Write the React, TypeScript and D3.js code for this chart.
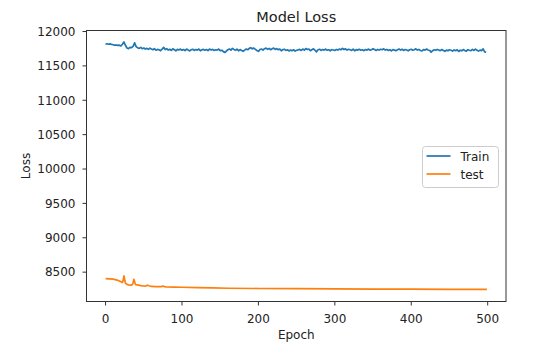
import React from "react";
import * as d3 from "d3";

// Train loss sampled every 2 epochs (epoch = index * 2)
const trainStep = 2;
const trainLoss = [
  11818, 11822, 11815, 11820, 11812, 11808, 11800, 11805, 11798, 11802,
  11790, 11815, 11848, 11800, 11760, 11752, 11770, 11765, 11785, 11835,
  11780, 11765, 11755, 11770, 11750, 11760, 11745, 11755, 11740, 11758,
  11745, 11735, 11750, 11728, 11740, 11735, 11722, 11745, 11770, 11738,
  11750, 11730, 11742, 11725, 11748, 11735, 11720, 11740, 11732, 11745,
  11728, 11738, 11722, 11745, 11730, 11718, 11735, 11742, 11725, 11738,
  11730, 11745, 11720, 11735, 11740, 11728, 11738, 11722, 11745, 11732,
  11740, 11725, 11735, 11730, 11745, 11722, 11728, 11710, 11695, 11715,
  11735, 11745, 11730, 11755, 11740, 11728, 11745, 11720, 11738, 11725,
  11712, 11730, 11745, 11735, 11755, 11765, 11748, 11760, 11740, 11725,
  11712, 11738, 11745, 11730, 11750, 11758, 11742, 11755, 11735, 11748,
  11760, 11740, 11752, 11735, 11745, 11720, 11738, 11742, 11725, 11735,
  11718, 11730, 11722, 11735, 11715, 11728, 11732, 11740, 11725, 11745,
  11730, 11752, 11738, 11745, 11722, 11735, 11748, 11728, 11705, 11735,
  11742, 11725, 11738, 11730, 11745, 11728, 11735, 11720, 11738, 11732,
  11725, 11740, 11730, 11745, 11735, 11755, 11738, 11748, 11730, 11742,
  11735, 11725, 11745, 11720, 11738, 11730, 11742, 11728, 11735, 11722,
  11738, 11730, 11745, 11728, 11735, 11748, 11738, 11725, 11740, 11730,
  11742, 11735, 11748, 11730, 11740, 11725, 11735, 11718, 11738, 11730,
  11722, 11735, 11745, 11730, 11742, 11725, 11738, 11732, 11720, 11735,
  11742, 11728, 11735, 11748, 11730, 11740, 11725, 11718, 11738, 11730,
  11745, 11732, 11725, 11700, 11722, 11735, 11728, 11740, 11730, 11722,
  11738, 11725, 11712, 11730, 11720, 11735, 11728, 11715, 11732, 11722,
  11735, 11710, 11728, 11720, 11738, 11725, 11715, 11735, 11728, 11722,
  11740, 11725, 11745, 11728, 11715, 11730, 11722, 11748, 11705, 11700,
];

const testEpochs = [
  0, 5, 10, 15, 18, 20, 22, 23, 24, 25, 26, 28, 30, 33, 35, 36, 37, 38, 39, 40,
  43, 46, 50, 53, 55, 57, 60, 65, 70, 73, 75, 77, 80, 90, 100, 120, 140, 160,
  200, 250, 300, 350, 400, 450, 499,
];
const testLoss = [
  8405, 8403, 8398, 8385, 8372, 8360, 8348, 8380, 8445, 8390, 8340, 8322, 8315,
  8312, 8318, 8345, 8395, 8360, 8322, 8318, 8312, 8305, 8298, 8300, 8310, 8302,
  8292, 8290, 8288, 8290, 8298, 8290, 8284, 8282, 8280, 8276, 8270, 8266, 8262,
  8259, 8256, 8254, 8252, 8250, 8248,
];

const xTicks = [0, 100, 200, 300, 400, 500];
const yTicks = [8500, 9000, 9500, 10000, 10500, 11000, 11500, 12000];
const seriesNames = ["Train", "test"];
const seriesColors = ["#1f77b4", "#ff7f0e"];

const W = 541;
const H = 347;
const left = 86.5;
const right = 506;
const top = 30.5;
const bottom = 301.5;
const font = "'DejaVu Sans', sans-serif";

export default function App() {
  const x = d3.scaleLinear().domain([-24.95, 523.95]).range([left, right]);
  const y = d3.scaleLinear().domain([8073, 12015]).range([bottom, top]);

  const trainPts: [number, number][] = trainLoss.map((v, i) => [i * trainStep, v]);
  const testPts: [number, number][] = testLoss.map((v, i) => [testEpochs[i], v]);
  const line = d3
    .line<[number, number]>()
    .x((d) => x(d[0]))
    .y((d) => y(d[1]));

  const legX = 422.5;
  const legY = 146.5;

  return (
    <svg
      width={W}
      height={H}
      style={{ position: "absolute", left: 0, top: 0, background: "#fff" }}
      fontFamily={font}
    >
      <rect x={0} y={0} width={W} height={H} fill="#fff" />
      <text x={(left + right) / 2} y={22} textAnchor="middle" fontSize={14.5} fill="#222">
        Model Loss
      </text>
      <path d={line(trainPts) || ""} fill="none" stroke={seriesColors[0]} strokeWidth={1.7} strokeLinejoin="round" />
      <path d={line(testPts) || ""} fill="none" stroke={seriesColors[1]} strokeWidth={1.7} strokeLinejoin="round" />
      <rect x={left} y={top} width={right - left} height={bottom - top} fill="none" stroke="#333" strokeWidth={1} />
      {xTicks.map((t) => (
        <g key={"x" + t}>
          <line x1={x(t)} x2={x(t)} y1={bottom} y2={bottom + 4} stroke="#333" />
          <text x={x(t)} y={322.5} textAnchor="middle" fontSize={12} fill="#222">
            {t}
          </text>
        </g>
      ))}
      {yTicks.map((t) => (
        <g key={"y" + t}>
          <line x1={left - 4} x2={left} y1={y(t)} y2={y(t)} stroke="#333" />
          <text x={left - 11} y={y(t) + 4.3} textAnchor="end" fontSize={12} fill="#222">
            {t}
          </text>
        </g>
      ))}
      <text x={(left + right) / 2} y={338.5} textAnchor="middle" fontSize={12} fill="#222">
        Epoch
      </text>
      <text
        transform={`translate(29.5,${(top + bottom) / 2}) rotate(-90)`}
        textAnchor="middle"
        fontSize={12}
        fill="#222"
      >
        Loss
      </text>
      <rect x={legX} y={legY} width={76} height={41} rx={3} fill="#fff" fillOpacity={0.8} stroke="#ccc" />
      {seriesNames.map((n, i) => (
        <g key={n}>
          <line
            x1={legX + 4}
            x2={legX + 28}
            y1={legY + 9.5 + i * 18}
            y2={legY + 9.5 + i * 18}
            stroke={seriesColors[i]}
            strokeWidth={1.7}
          />
          <text x={legX + 38} y={legY + 14 + i * 18} fontSize={12} fill="#222">
            {n}
          </text>
        </g>
      ))}
    </svg>
  );
}
